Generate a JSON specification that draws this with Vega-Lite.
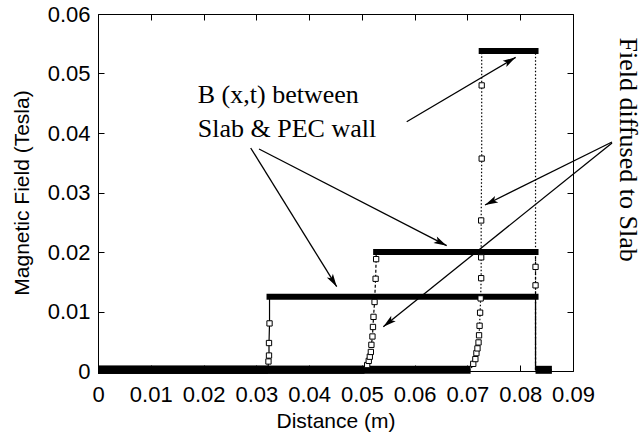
{
  "$schema": "https://vega.github.io/schema/vega-lite/v6.json",
  "width": 475,
  "height": 357,
  "autosize": "none",
  "padding": {"left": 98, "top": 14, "right": 69, "bottom": 69},
  "background": "white",
  "config": {
    "view": {"stroke": null},
    "axis": {
      "grid": false,
      "domainColor": "black",
      "domainWidth": 1,
      "tickColor": "black",
      "tickWidth": 1,
      "tickSize": -6,
      "labelColor": "black",
      "titleColor": "black",
      "labelFont": "Liberation Sans",
      "titleFont": "Liberation Sans",
      "labelFontSize": 22,
      "titleFontSize": 21,
      "titleFontWeight": "normal"
    }
  },
  "datasets": {
    "profiles": [
      {"s": "a", "k": "base", "i": 1, "x": 0, "y": 0.0002},
      {"s": "a", "k": "base", "i": 2, "x": 0.0322, "y": 0.0002},
      {"s": "a", "k": "rise", "i": 3, "x": 0.0323, "y": 0.0016},
      {"s": "a", "k": "rise", "i": 4, "x": 0.0324, "y": 0.0026},
      {"s": "a", "k": "rise", "i": 5, "x": 0.0324, "y": 0.0047},
      {"s": "a", "k": "rise", "i": 6, "x": 0.0325, "y": 0.008},
      {"s": "a", "k": "top", "i": 7, "x": 0.0325, "y": 0.0125},
      {"s": "a", "k": "top", "i": 8, "x": 0.0829, "y": 0.0125},
      {"s": "a", "k": "end", "i": 9, "x": 0.0829, "y": 0.0002},
      {"s": "a", "k": "end", "i": 10, "x": 0.086, "y": 0.0002},

      {"s": "b", "k": "base", "i": 1, "x": 0, "y": 0.0002},
      {"s": "b", "k": "base", "i": 2, "x": 0.0505, "y": 0.0002},
      {"s": "b", "k": "rise", "i": 3, "x": 0.051, "y": 0.001},
      {"s": "b", "k": "rise", "i": 4, "x": 0.0513, "y": 0.0017},
      {"s": "b", "k": "rise", "i": 5, "x": 0.0515, "y": 0.0024},
      {"s": "b", "k": "rise", "i": 6, "x": 0.0517, "y": 0.0032},
      {"s": "b", "k": "rise", "i": 7, "x": 0.0518, "y": 0.0044},
      {"s": "b", "k": "rise", "i": 8, "x": 0.052, "y": 0.0058},
      {"s": "b", "k": "rise", "i": 9, "x": 0.0521, "y": 0.0074},
      {"s": "b", "k": "rise", "i": 10, "x": 0.0522, "y": 0.0091},
      {"s": "b", "k": "rise", "i": 11, "x": 0.0524, "y": 0.0116},
      {"s": "b", "k": "rise", "i": 12, "x": 0.0526, "y": 0.0155},
      {"s": "b", "k": "rise", "i": 13, "x": 0.0527, "y": 0.0188},
      {"s": "b", "k": "top", "i": 14, "x": 0.0527, "y": 0.02},
      {"s": "b", "k": "top", "i": 15, "x": 0.0829, "y": 0.02},
      {"s": "b", "k": "fall", "i": 16, "x": 0.0829, "y": 0.0175},
      {"s": "b", "k": "fall", "i": 17, "x": 0.0829, "y": 0.0144},
      {"s": "b", "k": "foot", "i": 18, "x": 0.0829, "y": 0.0002},

      {"s": "c", "k": "base", "i": 1, "x": 0, "y": 0.0002},
      {"s": "c", "k": "base", "i": 2, "x": 0.0706, "y": 0.0002},
      {"s": "c", "k": "rise", "i": 3, "x": 0.0711, "y": 0.0012},
      {"s": "c", "k": "rise", "i": 4, "x": 0.0715, "y": 0.002},
      {"s": "c", "k": "rise", "i": 5, "x": 0.0717, "y": 0.003},
      {"s": "c", "k": "rise", "i": 6, "x": 0.0719, "y": 0.0038},
      {"s": "c", "k": "rise", "i": 7, "x": 0.0721, "y": 0.0048},
      {"s": "c", "k": "rise", "i": 8, "x": 0.0722, "y": 0.006},
      {"s": "c", "k": "rise", "i": 9, "x": 0.0723, "y": 0.0076},
      {"s": "c", "k": "rise", "i": 10, "x": 0.0724, "y": 0.0098},
      {"s": "c", "k": "rise", "i": 11, "x": 0.0725, "y": 0.0122},
      {"s": "c", "k": "rise", "i": 12, "x": 0.0726, "y": 0.0156},
      {"s": "c", "k": "rise", "i": 13, "x": 0.0726, "y": 0.0191},
      {"s": "c", "k": "rise", "i": 14, "x": 0.0726, "y": 0.0253},
      {"s": "c", "k": "rise", "i": 15, "x": 0.0727, "y": 0.0357},
      {"s": "c", "k": "rise", "i": 16, "x": 0.0727, "y": 0.048},
      {"s": "c", "k": "top", "i": 17, "x": 0.0727, "y": 0.0538},
      {"s": "c", "k": "top", "i": 18, "x": 0.0829, "y": 0.0538},
      {"s": "c", "k": "foot", "i": 19, "x": 0.0829, "y": 0.0002}
    ],
    "arrows": [
      {"x": 0.02893, "y": 0.03748, "x2": 0.04523, "y2": 0.01417},
      {"x": 0.03051, "y": 0.03731, "x2": 0.06607, "y2": 0.02106},
      {"x": 0.05849, "y": 0.0419, "x2": 0.07914, "y2": 0.05272},
      {"x": 0.09739, "y": 0.03849, "x2": 0.07333, "y2": 0.0279},
      {"x": 0.09739, "y": 0.03832, "x2": 0.05406, "y2": 0.00745}
    ],
    "notes": [
      {"label": "B (x,t) between", "x": 0.0189, "y": 0.045},
      {"label": "Slab & PEC wall", "x": 0.0189, "y": 0.0393}
    ],
    "sidenote": [
      {"label": "Field diffused to Slab", "x": 0.1004, "y": 0.0372}
    ]
  },
  "resolve": {"axis": {"x": "independent", "y": "independent"}},
  "layer": [
    {
      "data": {"name": "profiles"},
      "mark": {"type": "line", "color": "black", "strokeWidth": 1.2},
      "encoding": {
        "x": {
          "field": "x", "type": "quantitative",
          "scale": {"domain": [0, 0.09], "nice": false, "zero": false},
          "axis": {
            "orient": "bottom",
            "values": [0, 0.01, 0.02, 0.03, 0.04, 0.05, 0.06, 0.07, 0.08, 0.09],
            "labelExpr": "datum.value == 0 ? '0' : format(datum.value, '.2f')",
            "labelPadding": 19,
            "labelFlush": false,
            "title": "Distance (m)",
            "titlePadding": 5
          }
        },
        "y": {
          "field": "y", "type": "quantitative",
          "scale": {"domain": [0, 0.06], "nice": false, "zero": false},
          "axis": {
            "orient": "left",
            "values": [0, 0.01, 0.02, 0.03, 0.04, 0.05, 0.06],
            "labelExpr": "datum.value == 0 ? '0' : format(datum.value, '.2f')",
            "labelPadding": 14,
            "labelFlush": false,
            "title": "Magnetic Field (Tesla)",
            "titlePadding": 15
          }
        },
        "detail": {"field": "s"},
        "order": {"field": "i", "type": "quantitative"},
        "strokeDash": {
          "field": "s", "type": "nominal",
          "scale": {"domain": ["a", "b", "c"], "range": [[1, 0], [3, 2], [1.5, 2]]},
          "legend": null
        }
      }
    },
    {
      "data": {"name": "profiles"},
      "transform": [{"filter": "datum.k == 'base' || datum.k == 'end'"}],
      "mark": {"type": "line", "color": "black", "strokeWidth": 8, "strokeCap": "butt"},
      "encoding": {
        "x": {"field": "x", "type": "quantitative", "axis": null},
        "y": {"field": "y", "type": "quantitative", "axis": null},
        "detail": [{"field": "s"}, {"field": "k"}],
        "order": {"field": "i", "type": "quantitative"}
      }
    },
    {
      "data": {"name": "profiles"},
      "transform": [{"filter": "datum.k == 'top'"}],
      "mark": {"type": "line", "color": "black", "strokeWidth": 6, "strokeCap": "square"},
      "encoding": {
        "x": {"field": "x", "type": "quantitative", "axis": null},
        "y": {"field": "y", "type": "quantitative", "axis": null},
        "detail": [{"field": "s"}, {"field": "k"}],
        "order": {"field": "i", "type": "quantitative"}
      }
    },
    {
      "data": {"name": "profiles"},
      "transform": [{"filter": "datum.k == 'rise' || datum.k == 'fall'"}],
      "mark": {"type": "point", "shape": "square", "size": 28, "filled": true, "fill": "white", "stroke": "black", "strokeWidth": 1, "opacity": 1},
      "encoding": {
        "x": {"field": "x", "type": "quantitative", "axis": null},
        "y": {"field": "y", "type": "quantitative", "axis": null}
      }
    },
    {
      "data": {"name": "arrows"},
      "mark": {"type": "rule", "color": "black", "strokeWidth": 1.3},
      "encoding": {
        "x": {"field": "x", "type": "quantitative", "axis": null},
        "y": {"field": "y", "type": "quantitative", "axis": null},
        "x2": {"field": "x2"},
        "y2": {"field": "y2"}
      }
    },
    {
      "data": {"name": "arrows"},
      "transform": [
        {"calculate": "atan2((datum.x2 - datum.x) * 5277.8, (datum.y2 - datum.y) * 5950) * 180 / PI", "as": "heading"}
      ],
      "mark": {"type": "point", "shape": "M0,0 L0.55,2 L0,1.55 L-0.55,2 Z", "size": 169, "filled": true, "color": "black", "opacity": 1},
      "encoding": {
        "x": {"field": "x2", "type": "quantitative", "axis": null},
        "y": {"field": "y2", "type": "quantitative", "axis": null},
        "angle": {"field": "heading", "type": "quantitative", "scale": null}
      }
    },
    {
      "data": {"name": "notes"},
      "mark": {"type": "text", "font": "Liberation Serif", "fontSize": 26, "align": "left", "baseline": "alphabetic", "color": "black"},
      "encoding": {
        "x": {"field": "x", "type": "quantitative", "axis": null},
        "y": {"field": "y", "type": "quantitative", "axis": null},
        "text": {"field": "label"}
      }
    },
    {
      "data": {"name": "sidenote"},
      "mark": {"type": "text", "font": "Liberation Serif", "fontSize": 26, "align": "center", "baseline": "middle", "angle": 90, "color": "black"},
      "encoding": {
        "x": {
          "field": "x", "type": "quantitative",
          "axis": {"orient": "top", "values": [0, 0.01, 0.02, 0.03, 0.04, 0.05, 0.06, 0.07, 0.08, 0.09], "labels": false, "title": null}
        },
        "y": {
          "field": "y", "type": "quantitative",
          "axis": {"orient": "right", "values": [0, 0.01, 0.02, 0.03, 0.04, 0.05, 0.06], "labels": false, "title": null}
        },
        "text": {"field": "label"}
      }
    }
  ]
}
